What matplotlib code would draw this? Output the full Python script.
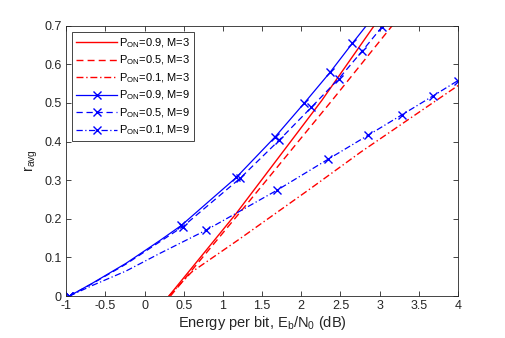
import matplotlib
matplotlib.use('Agg')
import matplotlib.pyplot as plt

plt.rcParams['font.family'] = ['Liberation Sans', 'DejaVu Sans']
plt.rcParams['axes.unicode_minus'] = False
plt.rcParams['mathtext.default'] = 'regular'

# M=3 curves (red)
x_r09 = [0.31, 1.17, 2.26, 2.93]
y_r09 = [0.0, 0.214, 0.506, 0.70]
x_r05 = [0.33, 1.346, 2.39, 3.16]
y_r05 = [0.0, 0.248, 0.506, 0.70]
x_r01 = [0.31, 0.45, 0.6, 0.8, 1.2, 2.115, 2.76, 4.0]
y_r01 = [0.0, 0.03, 0.062, 0.09, 0.146, 0.278, 0.373, 0.545]

# M=9 curves (blue), markers only on some points
x_b09 = [-0.96, -0.66, -0.235, 0.19, 0.47, 1.17, 1.67, 2.04, 2.37, 2.65, 2.83]
y_b09 = [0.0, 0.034, 0.085, 0.143, 0.183, 0.307, 0.413, 0.50, 0.58, 0.654, 0.70]
m_b09 = [0, 4, 5, 6, 7, 8, 9]
x_b05 = [-0.96, -0.66, -0.235, 0.19, 0.49, 1.22, 1.72, 2.13, 2.48, 2.78, 3.03]
y_b05 = [0.0, 0.033, 0.083, 0.14, 0.18, 0.305, 0.404, 0.489, 0.563, 0.635, 0.697]
m_b05 = [0, 4, 5, 6, 7, 8, 9, 10]
x_b01 = [-0.96, -0.66, -0.235, 0.19, 0.78, 1.69, 2.34, 2.85, 3.29, 3.68, 4.0]
y_b01 = [0.0, 0.028, 0.065, 0.11, 0.17, 0.274, 0.354, 0.416, 0.47, 0.518, 0.558]
m_b01 = [0, 4, 5, 6, 7, 8, 9, 10]

labels = ['P$_{ON}$=0.9, M=3', 'P$_{ON}$=0.5, M=3', 'P$_{ON}$=0.1, M=3',
          'P$_{ON}$=0.9, M=9', 'P$_{ON}$=0.5, M=9', 'P$_{ON}$=0.1, M=9']

dash = (0, (5, 3))
dashdot = (0, (5, 2, 1, 2))

fig = plt.figure(figsize=(5.05, 3.38), dpi=100)
ax = fig.add_axes([0.131, 0.124, 0.776, 0.8])

ax.plot(x_r09, y_r09, color='r', lw=1.0, ls='-', label=labels[0])
ax.plot(x_r05, y_r05, color='r', lw=1.0, ls=dash, label=labels[1])
ax.plot(x_r01, y_r01, color='r', lw=1.0, ls=dashdot, label=labels[2])
ax.plot(x_b09, y_b09, color='b', lw=0.9, ls='-', marker='x', ms=6, mew=1.0,
        markevery=m_b09, label=labels[3])
ax.plot(x_b05, y_b05, color='b', lw=0.9, ls=dash, marker='x', ms=6, mew=1.0,
        markevery=m_b05, label=labels[4])
ax.plot(x_b01, y_b01, color='b', lw=0.9, ls=dashdot, marker='x', ms=6, mew=1.0,
        markevery=m_b01, label=labels[5])

ax.set_xlim(-1, 4)
ax.set_ylim(0, 0.7)
ax.set_xticks([-1, -0.5, 0, 0.5, 1, 1.5, 2, 2.5, 3, 3.5, 4])
ax.set_xticklabels(['-1', '-0.5', '0', '0.5', '1', '1.5', '2', '2.5', '3', '3.5', '4'])
ax.set_yticks([0, 0.1, 0.2, 0.3, 0.4, 0.5, 0.6, 0.7])
ax.set_yticklabels(['0', '0.1', '0.2', '0.3', '0.4', '0.5', '0.6', '0.7'])
ax.tick_params(direction='in', top=True, right=True, length=3.5, width=0.6,
               labelsize=9, colors='#262626', pad=3)
for s in ax.spines.values():
    s.set_linewidth(0.6)
    s.set_color('#262626')

ax.set_xlabel('Energy per bit, E$_b$/N$_0$ (dB)', fontsize=10.5, color='#262626', labelpad=1)
ax.set_ylabel('r$_{avg}$', fontsize=10.5, color='#262626', labelpad=3)

leg = ax.legend(loc='upper left', bbox_to_anchor=(0.016, 0.975), fontsize=8,
                handlelength=3.7, handletextpad=0.15, labelspacing=0.35,
                borderpad=0.35, borderaxespad=0.0, fancybox=False, framealpha=1)
leg.get_frame().set_edgecolor('#262626')
leg.get_frame().set_linewidth(0.6)

plt.savefig('out.png', dpi=100)
